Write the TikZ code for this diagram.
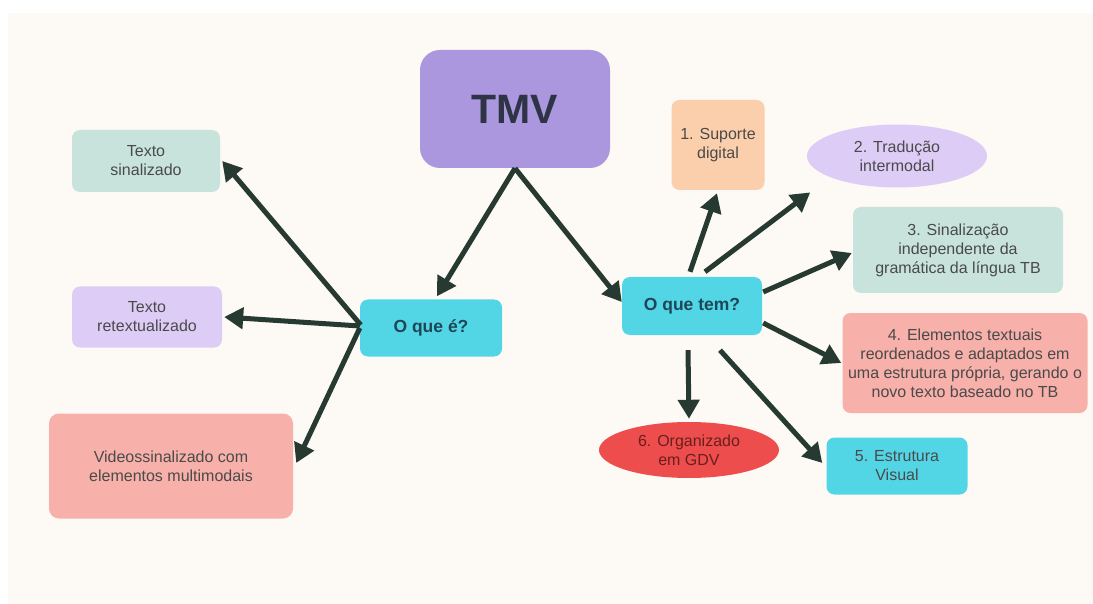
\documentclass[tikz,border=0pt]{standalone}
\usepackage{fontspec}
\setmainfont{Liberation Sans}
\usetikzlibrary{arrows.meta,shapes.geometric,calc}

\definecolor{bgcream}{HTML}{FDF9F5}
\definecolor{tmvpurple}{HTML}{AB97DE}
\definecolor{hubcyan}{HTML}{52D6E6}
\definecolor{hubtext}{HTML}{1D4756}
\definecolor{mint}{HTML}{C7E3DB}
\definecolor{lilac}{HTML}{DDCDF6}
\definecolor{salmon}{HTML}{F7B0AA}
\definecolor{peach}{HTML}{FBCFAB}
\definecolor{alertred}{HTML}{EE4D4D}
\definecolor{arrowgreen}{HTML}{263A32}
\definecolor{txtgray}{HTML}{4A4A4A}
\definecolor{tmvtext}{HTML}{2E3446}
\definecolor{maroon}{HTML}{6B1E1E}

\begin{document}
\begin{tikzpicture}[x=1pt,y=-1pt,
  box/.style={rounded corners=8pt, inner sep=0pt, align=center, text=txtgray,
    font=\fontsize{16}{19}\selectfont},
  oval/.style={ellipse, inner sep=0pt, align=center, text=txtgray,
    font=\fontsize{16}{19}\selectfont},
  hub/.style={box, fill=hubcyan, text=hubtext,
    font=\bfseries\fontsize{17.5}{20}\selectfont},
  link/.style={draw=arrowgreen, line width=5pt,
    -{Triangle[length=19pt,width=21pt]}}
]
% page and canvas
\useasboundingbox (0,0) rectangle (1093,604);
\fill[white] (0,0) rectangle (1093,604);
\fill[bgcream] (8,13) rectangle (1093,604);

% central topic
\node[fill=tmvpurple, rounded corners=20pt, minimum width=190pt, minimum height=118pt,
  text=tmvtext, font=\bfseries\fontsize{41}{46}\selectfont] (tmv) at (515,109) {TMV};

% the two questions
\node[hub, minimum width=142pt, minimum height=57pt] (oque) at (431,328) {O que é?};
\node[hub, minimum width=140pt, minimum height=58pt] (otem) at (692,306) {O que tem?};

% left branch
\node[box, fill=mint, minimum width=148pt, minimum height=62pt] (tsin) at (146,161)
  {Texto\\sinalizado};
\node[box, fill=lilac, minimum width=150pt, minimum height=61pt] (tret) at (147,317)
  {Texto\\retextualizado};
\node[box, fill=salmon, minimum width=244pt, minimum height=105pt, rounded corners=10pt] (video) at (171,466)
  {Videossinalizado com\\elementos multimodais};

% right branch
\node[box, fill=peach, minimum width=93pt, minimum height=90pt] (s1) at (718,145)
  {1. Suporte\\digital};
\node[oval, fill=lilac, minimum width=180pt, minimum height=63pt] (s2) at (897,156)
  {2. Tradução\\intermodal};
\node[box, fill=mint, minimum width=210pt, minimum height=86pt] (s3) at (958,250)
  {3. Sinalização\\independente da\\gramática da língua TB};
\node[box, fill=salmon, minimum width=245pt, minimum height=100pt] (s4) at (965,363)
  {4. Elementos textuais\\reordenados e adaptados em\\uma estrutura própria, gerando o\\novo texto baseado no TB};
\node[box, fill=hubcyan, minimum width=141pt, minimum height=57pt] (s5) at (897,466)
  {5. Estrutura\\Visual};
\node[oval, fill=alertred, text=maroon, minimum width=180pt, minimum height=56pt] (s6) at (689,450)
  {6. Organizado\\em GDV};

% connectors
\draw[link] (tmv.south) -- ($(oque.north)+(6,-3)$);
\draw[link] (tmv.south) -- ($(otem.west)+(0,-4)$);

\draw[link] ($(oque.west)+(1,-3)$) -- ($(tsin.east)+(2,0)$);
\draw[link] ($(oque.west)+(0,-2)$) -- ($(tret.east)+(2,0)$);
\draw[link] (oque.west) -- ($(video.east)+(3,-3)$);

\draw[link] ($(otem.north)+(-2,-5)$) -- ($(s1.south)+(-1,3)$);
\draw[link] ($(otem.north)+(13,-5)$) -- ($(s2.south west)+(-23,14)$);
\draw[link] ($(otem.east)+(1,-14)$) -- ($(s3.west)+(-1,3)$);
\draw[link] ($(otem.east)+(1,17)$) -- ($(s4.west)+(-1,0)$);
\draw[link] ($(otem.south)+(-4,15)$) -- ($(s6.north)+(0,-3)$);
\draw[link] ($(otem.south)+(28,15)$) -- ($(s5.west)+(-4,-3)$);
\end{tikzpicture}
\end{document}
